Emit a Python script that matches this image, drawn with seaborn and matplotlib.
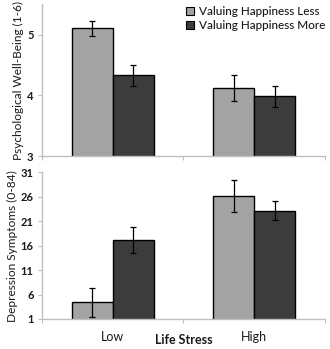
import matplotlib
matplotlib.use("Agg")
import matplotlib.pyplot as plt
from matplotlib.container import BarContainer
import seaborn as sns
import pandas as pd

stress = ["Low", "High"]
groups = ["Valuing Happiness Less", "Valuing Happiness More"]
wellbeing = [[5.10, 4.33], [4.12, 3.98]]     # [stress][group]
wellbeing_err = [[0.12, 0.17], [0.22, 0.17]]
depression = [[4.4, 17.2], [26.2, 23.2]]
depression_err = [[3.0, 2.65], [3.3, 1.95]]
wb_ticks = [3, 4, 5]
dep_ticks = [1, 6, 11, 16, 21, 26, 31]

sns.set_theme(style="white")
plt.rcParams['font.family'] = ['Lato', 'DejaVu Sans']

colors = ["#a3a3a3", "#3c3c3c"]
spine_col = "#bfbfbf"
text_col = "#1a1a1a"

def frame(vals):
    rows = []
    for i, s in enumerate(stress):
        for j, g in enumerate(groups):
            rows.append({"stress": s, "group": g, "value": vals[i][j]})
    return pd.DataFrame(rows)

fig = plt.figure(figsize=(3.30, 3.49), dpi=100)
ax1 = fig.add_axes([0.127, 0.553, 0.858, 0.435])
ax2 = fig.add_axes([0.127, 0.086, 0.858, 0.420])

def draw(ax, vals, errs, ylim, ticks, ylabel, legend):
    sns.barplot(data=frame(vals), x="stress", y="value", hue="group",
                order=stress, hue_order=groups, palette=colors, width=0.58,
                edgecolor="black", linewidth=1.0, errorbar=None, ax=ax,
                legend=legend, saturation=1)
    bars = [c for c in ax.containers if isinstance(c, BarContainer)]
    for j, cont in enumerate(bars):
        for i, p in enumerate(cont.patches):
            xc = p.get_x() + p.get_width() / 2
            ax.errorbar(xc, vals[i][j], yerr=errs[i][j], fmt="none",
                        ecolor="black", elinewidth=0.9, capsize=2.2, capthick=0.9)
    ax.set_xlim(-0.5, 1.5)
    ax.set_ylim(*ylim)
    ax.set_yticks(ticks)
    ax.set_yticklabels([str(t) for t in ticks], fontsize=8, fontweight="bold",
                       color=text_col)
    ax.set_ylabel(ylabel, fontsize=8.6, color=text_col, labelpad=2)
    ax.set_xlabel("")
    for s in ["top", "right"]:
        ax.spines[s].set_visible(False)
    for s in ["left", "bottom"]:
        ax.spines[s].set_color(spine_col)
        ax.spines[s].set_linewidth(1.0)
    ax.tick_params(axis="y", length=3, width=0.8, color=spine_col, pad=3, left=True)
    ax.set_xticks([-0.5, 0.5, 1.5], minor=True)
    ax.tick_params(axis="x", which="minor", length=3, width=0.8, color=spine_col, bottom=True)
    ax.tick_params(axis="x", which="major", length=0)

draw(ax1, wellbeing, wellbeing_err, (3, 5.5), wb_ticks,
     "Psychological Well-Being (1-6)", True)
ax1.set_xticklabels([])
leg = ax1.legend(loc="upper right", bbox_to_anchor=(1.025, 1.035), frameon=False,
                 fontsize=8.5, handlelength=0.7, handleheight=0.7,
                 handletextpad=0.4, labelspacing=0.3, borderaxespad=0.2)
for h in leg.legend_handles:
    h.set_edgecolor("black")
    h.set_linewidth(0.8)
for t in leg.get_texts():
    t.set_color(text_col)
    t.set_fontweight("medium")

draw(ax2, depression, depression_err, (1, 31), dep_ticks,
     "Depression Symptoms (0-84)", False)
ax2.set_xticklabels(stress, fontsize=9, color=text_col)
ax2.tick_params(axis="x", which="major", pad=9)
ax2.text(0.5, -0.105, "Life Stress", transform=ax2.transAxes, ha="center", va="top",
         fontsize=9, fontweight="bold", color=text_col)

fig.savefig("out.png", dpi=100)
